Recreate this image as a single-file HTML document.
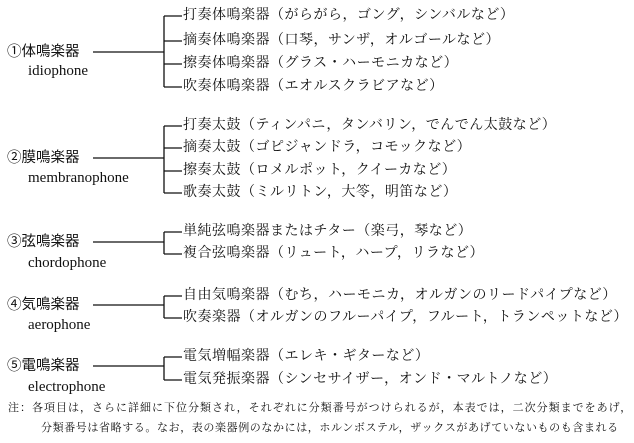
<!DOCTYPE html>
<html><head><meta charset="utf-8"><style>
body{margin:0;width:634px;height:443px;background:#fff;position:relative;overflow:hidden;font-family:"Liberation Serif","Noto Serif CJK SC","Noto Sans CJK JP",serif;color:#111}
.t{position:absolute;font-size:14px;white-space:nowrap;line-height:16px;letter-spacing:0.5px}
.l{position:absolute;font-size:14.5px;white-space:nowrap;line-height:16px;font-family:"Liberation Sans","Noto Sans CJK JP",sans-serif}
.e{position:absolute;font-size:15px;white-space:nowrap;line-height:16px;font-family:"Liberation Serif",serif}
.n{position:absolute;font-size:11px;white-space:nowrap;line-height:14px;left:8px}
svg{position:absolute;left:0;top:0}
</style></head><body>
<svg width="634" height="443" stroke="#111" stroke-width="1.3" fill="none">
<path d="M93 52H164M164 16V87M164 16H182M164 41H182M164 64H182M164 87H182"/>
<path d="M93 158H164M164 126V193M164 126H182M164 148H182M164 171H182M164 193H182"/>
<path d="M93 242H164M164 232V254M164 232H182M164 254H182"/>
<path d="M93 305H164M164 296V318M164 296H182M164 318H182"/>
<path d="M93 366H164M164 357V380M164 357H182M164 380H182"/>
</svg>
<div class="l" style="left:7px;top:44px">①体鳴楽器</div><div class="e" style="left:28px;top:63px">idiophone</div>
<div class="l" style="left:7px;top:150px">②膜鳴楽器</div><div class="e" style="left:28px;top:170px">membranophone</div>
<div class="l" style="left:7px;top:234px">③弦鳴楽器</div><div class="e" style="left:28px;top:255px">chordophone</div>
<div class="l" style="left:7px;top:297px">④気鳴楽器</div><div class="e" style="left:28px;top:317px">aerophone</div>
<div class="l" style="left:7px;top:358px">⑤電鳴楽器</div><div class="e" style="left:28px;top:379px">electrophone</div>
<div class="t" style="left:183px;top:8px">打奏体鳴楽器（がらがら，ゴング，シンバルなど）</div>
<div class="t" style="left:183px;top:33px">摘奏体鳴楽器（口琴，サンザ，オルゴールなど）</div>
<div class="t" style="left:183px;top:56px">擦奏体鳴楽器（グラス・ハーモニカなど）</div>
<div class="t" style="left:183px;top:79px">吹奏体鳴楽器（エオルスクラビアなど）</div>
<div class="t" style="left:183px;top:118px">打奏太鼓（ティンパニ，タンバリン，でんでん太鼓など）</div>
<div class="t" style="left:183px;top:140px">摘奏太鼓（ゴピジャンドラ，コモックなど）</div>
<div class="t" style="left:183px;top:163px">擦奏太鼓（ロメルポット，クイーカなど）</div>
<div class="t" style="left:183px;top:185px">歌奏太鼓（ミルリトン，大笭，明笛など）</div>
<div class="t" style="left:183px;top:224px">単純弦鳴楽器またはチター（楽弓，琴など）</div>
<div class="t" style="left:183px;top:246px">複合弦鳴楽器（リュート，ハープ，リラなど）</div>
<div class="t" style="left:183px;top:288px">自由気鳴楽器（むち，ハーモニカ，オルガンのリードパイプなど）</div>
<div class="t" style="left:183px;top:310px">吹奏楽器（オルガンのフルーパイプ，フルート，トランペットなど）</div>
<div class="t" style="left:183px;top:349px">電気増幅楽器（エレキ・ギターなど）</div>
<div class="t" style="left:183px;top:372px">電気発振楽器（シンセサイザー，オンド・マルトノなど）</div>
<div class="n" style="top:401px;letter-spacing:1px">注：各項目は，さらに詳細に下位分類され，それぞれに分類番号がつけられるが，本表では，二次分類までをあげ，</div>
<div class="n" style="top:421px;left:41px;letter-spacing:0.6px">分類番号は省略する。なお，表の楽器例のなかには，ホルンボステル，ザックスがあげていないものも含まれる</div>
</body></html>
